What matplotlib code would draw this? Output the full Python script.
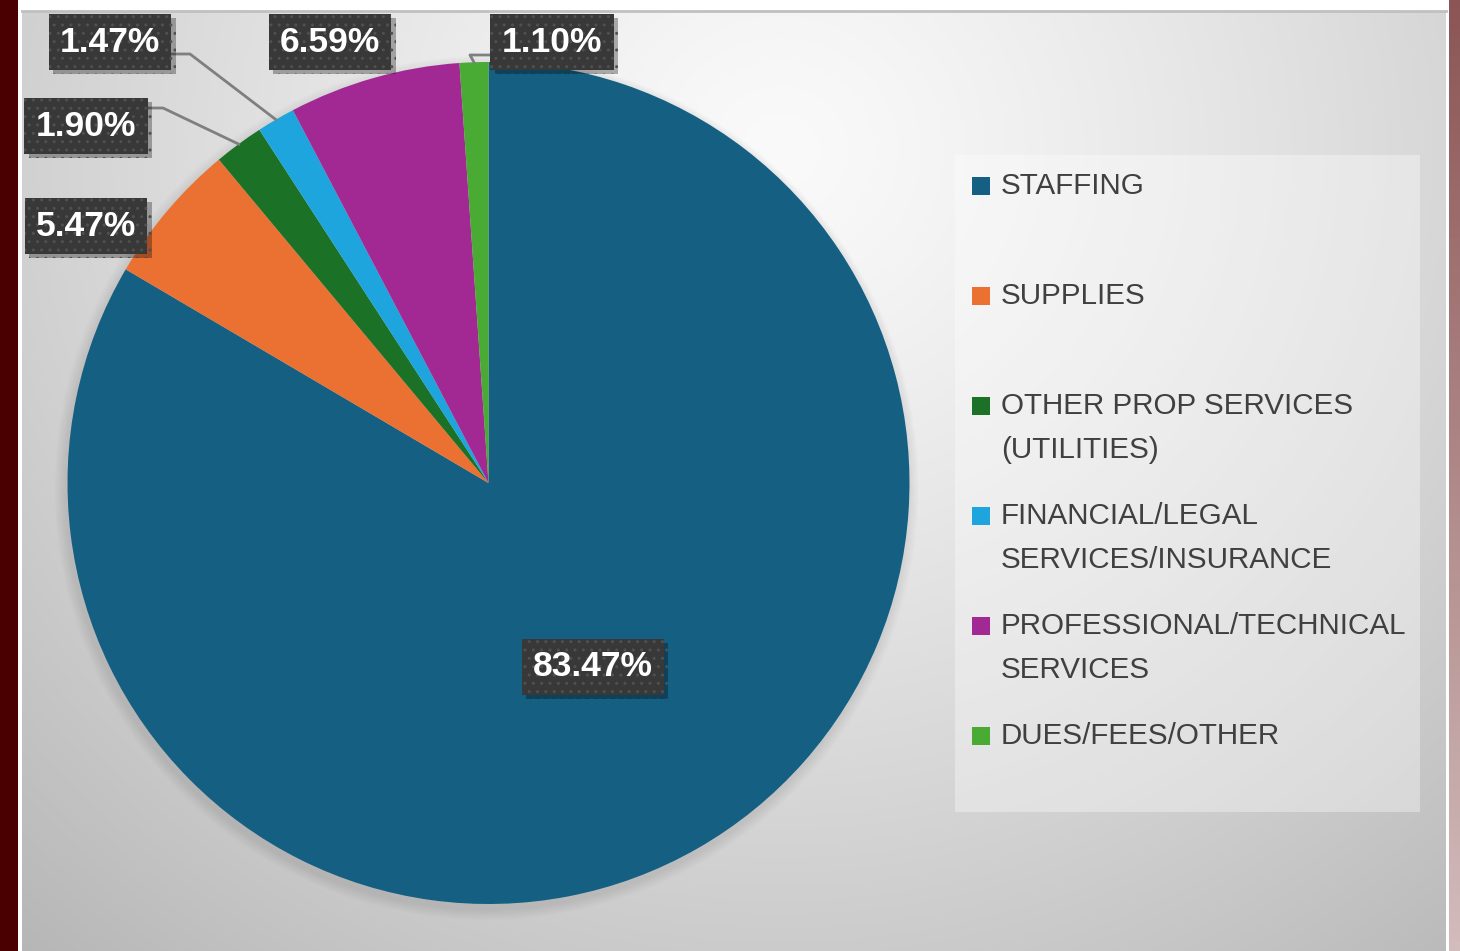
import numpy as np
import matplotlib.pyplot as plt
import matplotlib.patheffects as pe
from matplotlib.patches import Rectangle

plt.rcParams['font.family'] = ['Liberation Sans', 'DejaVu Sans']

# datos del grafico
categorias = ["STAFFING", "SUPPLIES", "OTHER PROP SERVICES\n(UTILITIES)",
              "FINANCIAL/LEGAL\nSERVICES/INSURANCE",
              "PROFESSIONAL/TECHNICAL\nSERVICES", "DUES/FEES/OTHER"]
porcentajes = [83.47, 5.47, 1.90, 1.47, 6.59, 1.10]
colores = ["#155f83", "#ea7131", "#1b7126", "#1ea5dd", "#a22994", "#4aab34"]

W, H = 1460, 951
CX, CY, R = 488.5, 483, 421

fig = plt.figure(figsize=(W / 100, H / 100), dpi=100)
fig.patch.set_facecolor("white")

# fondo con degradado radial
bg = fig.add_axes([0, 0, 1, 1], zorder=0)
bg.set_xlim(0, W)
bg.set_ylim(H, 0)
bg.axis("off")
xx, yy = np.meshgrid(np.arange(22, 1446), np.arange(11, H))
d = np.hypot(xx - 780, (yy - 150) * 1.05)
gris = 250 - 58 * np.clip(d / 1000, 0, 1.2) ** 1.25
img = np.dstack([gris, gris, gris]) / 255
bg.imshow(img, extent=(22, 1446, H, 11), aspect="auto", interpolation="bilinear")
bg.plot([22, 1446], [11, 11], color="#c0c0c0", lw=2)
bg.add_patch(Rectangle((0, 0), 18, H, facecolor="#4a0000", edgecolor="none"))
strip = np.linspace(0, 1, 100)[:, None]
col_top = np.array([0x8c, 0x55, 0x55]) / 255
col_bot = np.array([0xd3, 0xbc, 0xbc]) / 255
strip_img = col_top + strip[:, :, None] * (col_bot - col_top)
bg.imshow(strip_img, extent=(1449, W, H, 0), aspect="auto")

# sombra suave del pastel
for k in range(10):
    bg.add_patch(plt.Circle((CX - 2, CY + 5), R + 11 - k * 1.1, color="#808080",
                            alpha=0.02, lw=0))

# leyenda (caja)
bg.add_patch(Rectangle((955, 155), 465, 657, facecolor="white", alpha=0.35,
                       edgecolor="none"))

# pastel
ax = fig.add_axes([(CX - R) / W, (H - CY - R) / H, 2 * R / W, 2 * R / H], zorder=1)
ax.pie(porcentajes, colors=colores, startangle=90, counterclock=False,
       wedgeprops=dict(linewidth=0))
ax.set_xlim(-1, 1)
ax.set_ylim(-1, 1)
ax.set_aspect("auto")
ax.axis("off")

# capa superior para etiquetas
top = fig.add_axes([0, 0, 1, 1], zorder=2)
top.set_xlim(0, W)
top.set_ylim(H, 0)
top.axis("off")
top.patch.set_alpha(0)

# angulos medios de cada porcion
fracs = np.array(porcentajes) / sum(porcentajes)
inicio = np.concatenate([[0], np.cumsum(fracs)[:-1]])
medio = np.deg2rad(90 - 360 * (inicio + fracs / 2))
borde_x = CX + R * np.cos(medio)
borde_y = CY - R * np.sin(medio)

pos_etiquetas = [(593, 667), (86, 226), (86, 126), (110, 42), (330, 42), (552, 42)]

plt.rcParams['hatch.color'] = "#505050"
for i, (v, (lx, ly)) in enumerate(zip(porcentajes, pos_etiquetas)):
    t = top.text(lx, ly, f"{v:.2f}%", ha="center", va="center", color="white",
                 fontsize=25.5, fontweight="bold",
                 bbox=dict(boxstyle="square,pad=0.32", facecolor="#383838",
                           edgecolor="#505050", hatch="..", lw=0))
    t.get_bbox_patch().set_path_effects([
        pe.SimplePatchShadow(offset=(3, -3), shadow_rgbFace="black", alpha=0.3),
        pe.Normal()])

# lineas guia
gl = dict(color="#7f7f7f", lw=2, zorder=1)
top.plot([172, 190, borde_x[3]], [54, 54, borde_y[3]], **gl)
top.plot([146, 163, borde_x[2]], [108, 108, borde_y[2]], **gl)
top.plot([borde_x[5], borde_x[5] - 4, 491], [borde_y[5], 55, 55], **gl)

# leyenda (entradas)
y0 = 186
for i, (cat, c) in enumerate(zip(categorias, colores)):
    y = y0 + i * 110
    top.add_patch(Rectangle((972, y - 9), 18, 18, facecolor=c, edgecolor="none"))
    for j, linea in enumerate(cat.split("\n")):
        top.text(1001, y + j * 44, linea, ha="left", va="center", fontsize=21.3,
                 color="#404040")

fig.savefig("out.png", dpi=100)
